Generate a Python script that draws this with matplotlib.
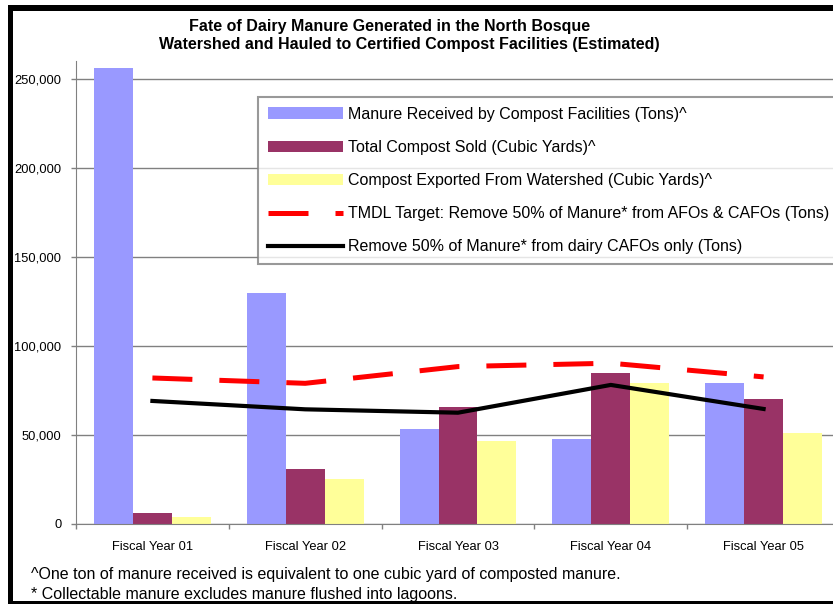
import numpy as np
import matplotlib
matplotlib.use('Agg')
import matplotlib.pyplot as plt
from matplotlib.ticker import FuncFormatter
from matplotlib.patches import Rectangle

plt.rcParams['font.family'] = ['Liberation Sans', 'DejaVu Sans']

# data
categories = ['Fiscal Year 01', 'Fiscal Year 02', 'Fiscal Year 03', 'Fiscal Year 04', 'Fiscal Year 05']
manure_received = [256000, 130000, 53400, 47800, 79200]
compost_sold = [6200, 30900, 65700, 84800, 70200]
compost_exported = [4100, 25300, 46600, 79200, 51100]
tmdl_target = [82000, 79000, 88400, 90300, 82600]
dairy_cafos = [69100, 64400, 62500, 78100, 64600]
yticks = [0, 50000, 100000, 150000, 200000, 250000]

W, H = 833, 605
fig = plt.figure(figsize=(W / 100, H / 100), dpi=100)
fig.patch.set_facecolor('white')

# axes run past the right edge of the picture, like the cropped original
ax_left, ax_right, ax_top, ax_bottom = 76, 840, 61, 524
ax = fig.add_axes([ax_left / W, 1 - ax_bottom / H, (ax_right - ax_left) / W, (ax_bottom - ax_top) / H])

x = np.arange(len(categories))
bw = 0.255
b1 = ax.bar(x - bw, manure_received, bw, color='#9999FF', zorder=2,
            label='Manure Received by Compost Facilities (Tons)^')
b2 = ax.bar(x, compost_sold, bw, color='#993366', zorder=2,
            label='Total Compost Sold (Cubic Yards)^')
b3 = ax.bar(x + bw, compost_exported, bw, color='#FFFF99', zorder=2,
            label='Compost Exported From Watershed (Cubic Yards)^')
l1, = ax.plot(x, tmdl_target, color='#FF0000', lw=3.6, dashes=(8, 5.4), zorder=3,
              label='TMDL Target: Remove 50% of Manure* from AFOs & CAFOs (Tons)')
l2, = ax.plot(x, dairy_cafos, color='black', lw=3, zorder=3,
              label='Remove 50% of Manure* from dairy CAFOs only (Tons)')

ax.set_xlim(-0.5, len(categories) - 0.5)
ax.set_ylim(0, 260000)
ax.set_yticks(yticks)
ax.yaxis.set_major_formatter(FuncFormatter(lambda v, p: f'{v:,.0f}'))
ax.yaxis.grid(True, color='#808080', lw=1)
ax.set_axisbelow(True)
ax.tick_params(axis='y', direction='out', length=3.6, width=1, color='#808080',
               labelsize=9.3, pad=7)

# category ticks between groups, labels at group centres
ax.set_xticks(np.arange(len(categories) + 1) - 0.5)
ax.set_xticklabels([])
ax.set_xticks(x, minor=True)
ax.set_xticklabels(categories, minor=True)
ax.tick_params(axis='x', which='major', direction='out', length=3.6, width=1, color='#808080')
ax.tick_params(axis='x', which='minor', length=0, labelsize=9.3, pad=12)

for s in ['top', 'right']:
    ax.spines[s].set_visible(False)
for s in ['left', 'bottom']:
    ax.spines[s].set_color('#808080')

handles = [b1, b2, b3, l1, l2]
leg = ax.legend(handles=handles, loc='upper left', bbox_to_anchor=(258 / W, 1 - 97 / H),
                bbox_transform=fig.transFigure, fontsize=11.5, frameon=True,
                fancybox=False, edgecolor='#808080', handlelength=4.75,
                handletextpad=0.3, labelspacing=1.14, borderpad=0.6, borderaxespad=0)
leg.get_frame().set_linewidth(1.5)

fig.text(390 / W, 1 - 27 / H, 'Fate of Dairy Manure Generated in the North Bosque',
         ha='center', va='center', fontsize=11.5, fontweight='bold')
fig.text(409 / W, 1 - 45 / H, 'Watershed and Hauled to Certified Compost Facilities (Estimated)',
         ha='center', va='center', fontsize=11.5, fontweight='bold')

fig.text(31 / W, 1 - 574 / H,
         '^One ton of manure received is equivalent to one cubic yard of composted manure.',
         ha='left', va='center', fontsize=11.5)
fig.text(31 / W, 1 - 594 / H, '* Collectable manure excludes manure flushed into lagoons.',
         ha='left', va='center', fontsize=11.5)

# black frame (top, left, bottom) of the original picture
def frame(x0, y0, x1, y1):
    fig.add_artist(Rectangle((x0 / W, 1 - y1 / H), (x1 - x0) / W, (y1 - y0) / H,
                             transform=fig.transFigure, color='black', lw=0, zorder=10))

frame(8, 5, W, 11)
frame(8, 5, 13, 604)
frame(8, 601, W, 604)

fig.savefig('out.png', dpi=100)
